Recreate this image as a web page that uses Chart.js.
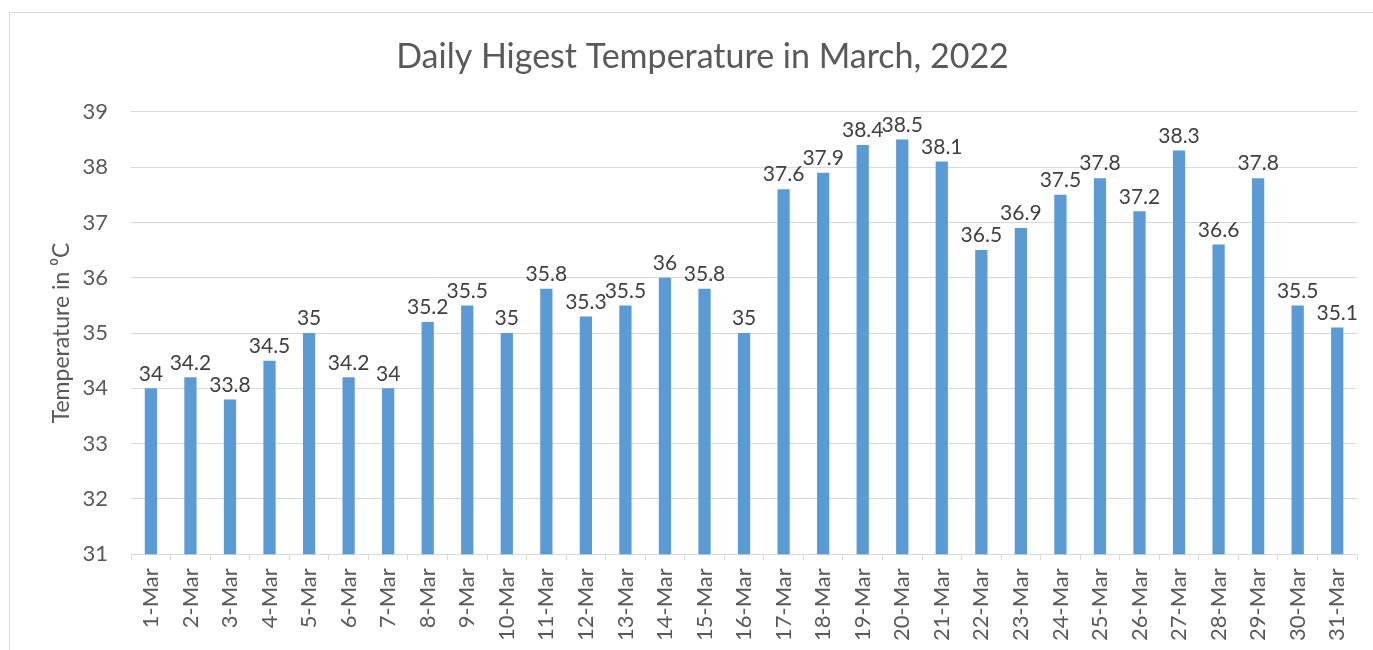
<!DOCTYPE html>
<html>
<head>
<meta charset="utf-8">
<script src="https://cdn.jsdelivr.net/npm/chart.js@4"></script>
<style>
  html, body { margin: 0; padding: 0; background: #fff; overflow: hidden; }
  #wrap { width: 1373px; height: 650px; }
</style>
</head>
<body>
<div id="wrap"><canvas id="c"></canvas></div>
<script>
// данные из картинки
const days = ["1-Mar","2-Mar","3-Mar","4-Mar","5-Mar","6-Mar","7-Mar","8-Mar","9-Mar","10-Mar",
  "11-Mar","12-Mar","13-Mar","14-Mar","15-Mar","16-Mar","17-Mar","18-Mar","19-Mar","20-Mar",
  "21-Mar","22-Mar","23-Mar","24-Mar","25-Mar","26-Mar","27-Mar","28-Mar","29-Mar","30-Mar","31-Mar"]
const temps = [34, 34.2, 33.8, 34.5, 35, 34.2, 34, 35.2, 35.5, 35,
  35.8, 35.3, 35.5, 36, 35.8, 35, 37.6, 37.9, 38.4, 38.5,
  38.1, 36.5, 36.9, 37.5, 37.8, 37.2, 38.3, 36.6, 37.8, 35.5, 35.1]
const yMin = 31, yMax = 39

const FONT = "Lato, 'Open Sans', sans-serif"

// подписи значений над столбиками
const valueLabels = {
  id: "valueLabels",
  afterDatasetsDraw(chart) {
    const { ctx } = chart
    const meta = chart.getDatasetMeta(0)
    ctx.save()
    ctx.font = "21px " + FONT
    ctx.fillStyle = "#404040"
    ctx.textAlign = "center"
    ctx.textBaseline = "bottom"
    meta.data.forEach((bar, i) => {
      ctx.fillText(String(temps[i]), bar.x, bar.y - 4)
    })
    ctx.restore()
  }
}

// рамка вокруг всего графика
const frame = {
  id: "frame",
  beforeDraw(chart) {
    const { ctx } = chart
    ctx.save()
    ctx.strokeStyle = "#d9d9d9"
    ctx.lineWidth = 1
    ctx.strokeRect(9.5, 12.5, 1400, 700)
    ctx.restore()
  }
}

new Chart(document.getElementById("c").getContext("2d"), {
  type: "bar",
  data: {
    labels: days,
    datasets: [{
      label: "temp", data: temps,
      backgroundColor: "#5b9bd5", borderWidth: 0,
      barPercentage: 0.62, categoryPercentage: 0.5
    }]
  },
  options: {
    responsive: true,
    maintainAspectRatio: false,
    animation: false,
    layout: { padding: { top: 12, left: 48, right: 16, bottom: 1 } },
    scales: {
      x: {
        grid: { display: true, drawOnChartArea: false, drawTicks: true, tickLength: 6, color: "#d9d9d9", offset: true },
        border: { display: true, color: "#d9d9d9" },
        ticks: { color: "#595959", font: { family: FONT, size: 22 }, maxRotation: 90, minRotation: 90, autoSkip: false, padding: 8 }
      },
      y: {
        min: yMin, max: yMax,
        grid: { color: "#d9d9d9", drawTicks: false },
        border: { display: false },
        ticks: { stepSize: 1, color: "#595959", font: { family: FONT, size: 22 }, padding: 23 },
        title: { display: true, text: "Temperature in \u2070C", color: "#595959", font: { family: FONT, size: 23 }, padding: { top: 0, bottom: -16 } }
      }
    },
    plugins: {
      legend: { display: false },
      tooltip: { enabled: false },
      title: {
        display: true, text: "Daily Higest Temperature in March, 2022",
        color: "#595959", font: { family: FONT, size: 34, weight: "normal" },
        padding: { top: 25, bottom: 34 }
      }
    }
  },
  plugins: [valueLabels, frame]
})
</script>
</body>
</html>
